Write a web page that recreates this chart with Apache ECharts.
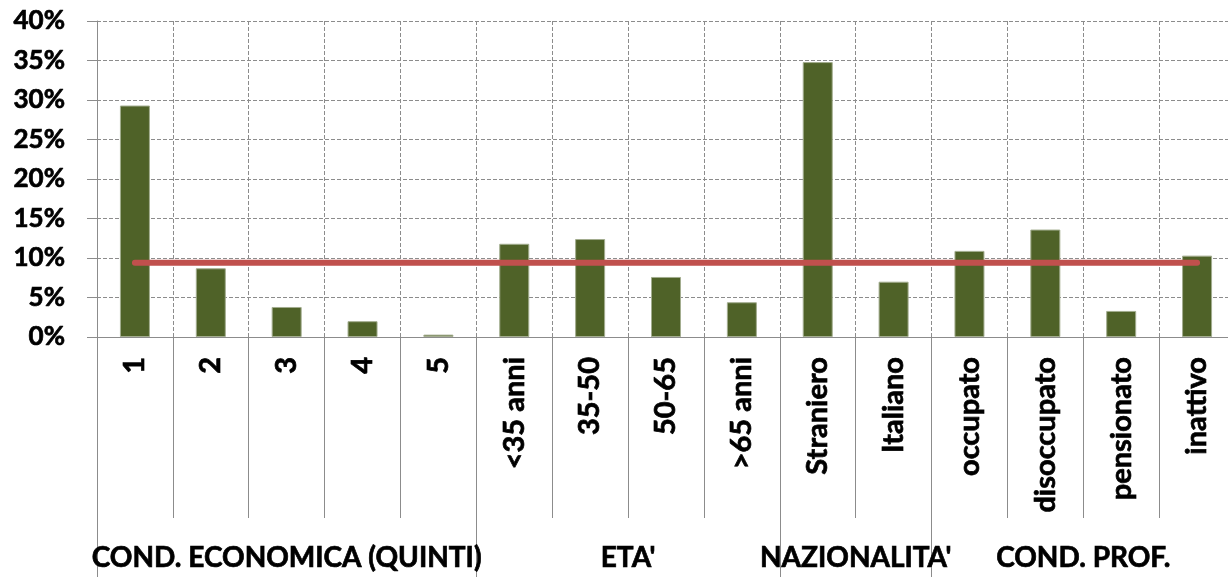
<!DOCTYPE html>
<html>
<head>
<meta charset="utf-8">
<script src="https://cdn.jsdelivr.net/npm/echarts@6/dist/echarts.min.js"></script>
<style>html,body{margin:0;padding:0;background:#fff;overflow:hidden;}#c{width:1240px;height:577px;}</style>
</head>
<body>
<div id="c"></div>
<script>
const categories = ['1','2','3','4','5','<35 anni','35-50','50-65','>65 anni','Straniero','Italiano','occupato','disoccupato','pensionato','inattivo'];
const values = [0.293, 0.087, 0.038, 0.020, 0.003, 0.118, 0.124, 0.076, 0.044, 0.348, 0.070, 0.109, 0.136, 0.033, 0.103];
const average = [0.094, 0.094, 0.094, 0.094, 0.094, 0.094, 0.094, 0.094, 0.094, 0.094, 0.094, 0.094, 0.094, 0.094, 0.094];
const groupNames = ['COND. ECONOMICA (QUINTI)', "ETA'", "NAZIONALITA'", 'COND. PROF.'];
const groupCenters = [2.5, 7, 10, 13];
const groupBounds = [0, 5, 9, 11, 15];

const chart = echarts.init(document.getElementById('c'));
const grey = '#8c8c8c';
const labelFont = { color: '#000', fontFamily: 'Lato', fontWeight: 'bold', textBorderColor: '#000', textBorderWidth: 0.7 };
chart.setOption({
  animation: false,
  grid: { left: 97, top: 21, right: 5, bottom: 240, containLabel: false },
  xAxis: [
    {
      type: 'category', data: categories, position: 'bottom',
      axisLine: { show: true, lineStyle: { color: grey, width: 1 } },
      axisTick: { show: true, interval: 0, length: 181, lineStyle: { color: grey, width: 1 } },
      splitLine: { show: true, interval: 0, lineStyle: { color: grey, type: [4, 2], width: 1 } },
      axisLabel: Object.assign({ interval: 0, rotate: 90, margin: 20, fontSize: 29 }, labelFont)
    },
    {
      type: 'value', min: 0, max: 15, position: 'bottom',
      axisLine: { show: false },
      splitLine: { show: false },
      axisTick: { show: true, customValues: groupBounds, length: 240, lineStyle: { color: grey, width: 1 } },
      axisLabel: Object.assign({
        customValues: groupCenters, margin: 207, fontSize: 28,
        formatter: function (v) { const i = groupCenters.indexOf(v); return i >= 0 ? groupNames[i] : ''; }
      }, labelFont)
    }
  ],
  yAxis: {
    type: 'value', min: 0, max: 0.4, interval: 0.05,
    axisLine: { show: true, lineStyle: { color: grey, width: 1 } },
    axisTick: { show: true, length: 10, lineStyle: { color: grey, width: 1 } },
    splitLine: { show: true, lineStyle: { color: grey, type: [4, 2], width: 1 } },
    axisLabel: Object.assign({
      margin: 32, fontSize: 26,
      formatter: function (v) { return Math.round(v * 100) + '%'; }
    }, labelFont)
  },
  series: [
    {
      type: 'bar', data: values, xAxisIndex: 0, barWidth: 30,
      itemStyle: { color: '#4F6228', borderColor: '#a3ad8f', borderWidth: 1 }, z: 2
    },
    {
      type: 'line', data: average, xAxisIndex: 0, symbol: 'none', z: 3,
      lineStyle: { color: '#C0504D', width: 6, cap: 'round' }
    }
  ]
});
</script>
</body>
</html>
